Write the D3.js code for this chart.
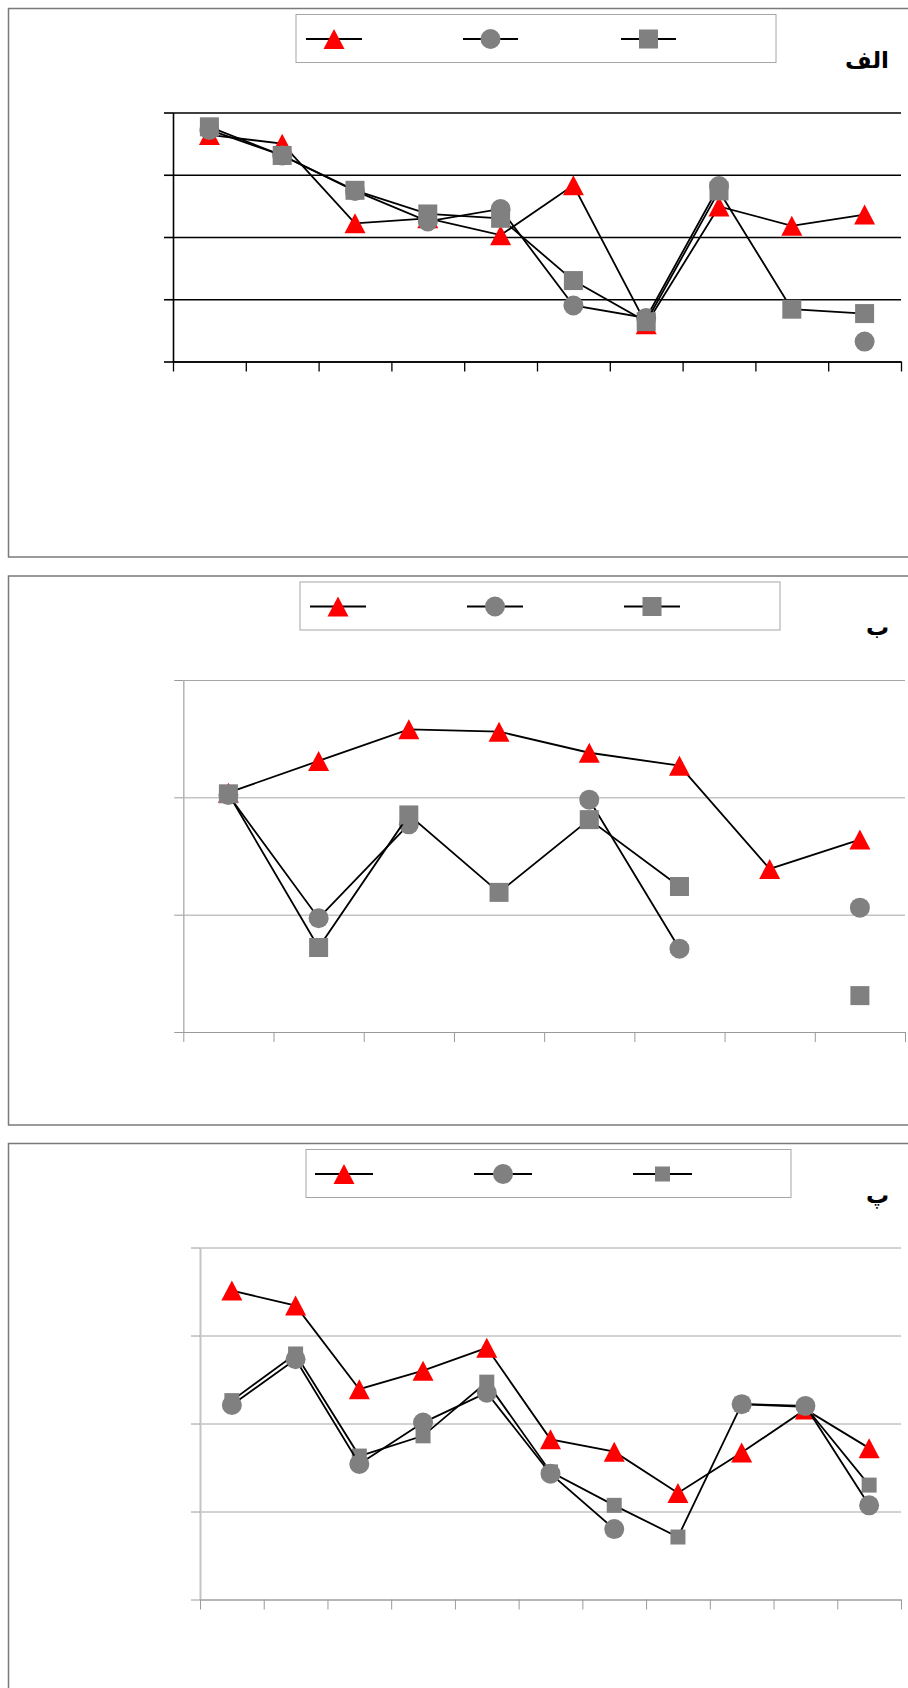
<!DOCTYPE html>
<html>
<head>
<meta charset="utf-8">
<script src="https://cdn.jsdelivr.net/npm/d3@7"></script>
<style>
  html, body { margin: 0; padding: 0; background: #fff; }
  svg { display: block; }
</style>
</head>
<body>
<svg id="canvas" width="908" height="1688"></svg>
<script>
'use strict';

// panel labels
const panelLabels = ['الف', 'ب', 'پ'];

// categories (no tick text is printed on the original)
const catsA = [1, 2, 3, 4, 5, 6, 7, 8, 9, 10];
const catsB = [1, 2, 3, 4, 5, 6, 7, 8];
const catsC = [1, 2, 3, 4, 5, 6, 7, 8, 9, 10, 11];

// y tick values
const ticksA = [0, 1, 2, 3, 4];
const ticksB = [0, 1, 2, 3];
const ticksC = [0, 1, 2, 3, 4];

// series values (null = gap)
const triA = [3.64, 3.50, 2.22, 2.30, 2.03, 2.83, 0.60, 2.49, 2.18, 2.36];
const cirA = [3.72, 3.31, 2.74, 2.25, 2.45, 0.90, 0.70, 2.82, null, 0.32];
const sqrA = [3.77, 3.31, 2.75, 2.37, 2.30, 1.30, 0.64, 2.74, 0.84, 0.77];

const triB = [2.04, 2.31, 2.58, 2.56, 2.38, 2.27, 1.39, 1.64];
const cirB = [2.02, 0.97, 1.77, null, 1.98, 0.71, null, 1.06];
const sqrB = [2.03, 0.72, 1.85, 1.19, 1.81, 1.24, null, 0.31];

const triC = [3.51, 3.34, 2.39, 2.60, 2.86, 1.82, 1.68, 1.21, 1.67, 2.16, 1.72];
const cirC = [2.21, 2.73, 1.54, 2.01, 2.35, 1.43, 0.80, null, 2.22, 2.20, 1.07];
const sqrC = [2.26, 2.79, 1.63, 1.86, 2.47, 1.45, 1.07, 0.71, 2.22, 2.19, 1.30];

const svg = d3.select('#canvas');

const markerStyle = {
	tri: {fill: '#ff0000'},
	cir: {fill: '#808080'},
	sqr: {fill: '#808080'}
};

function drawMarker(g, kind, cx, cy, size){
	if(kind === 'tri'){
		const w = 21, h = 20;
		g.append('path')
			.attr('d', 'M'+cx+','+(cy-h/2)+'L'+(cx+w/2)+','+(cy+h/2)+'L'+(cx-w/2)+','+(cy+h/2)+'Z')
			.attr('fill', markerStyle.tri.fill);
	} else if(kind === 'cir'){
		g.append('circle')
			.attr('cx', cx).attr('cy', cy).attr('r', 10)
			.attr('fill', markerStyle.cir.fill);
	} else {
		g.append('rect')
			.attr('x', cx-size/2).attr('y', cy-size/2)
			.attr('width', size).attr('height', size)
			.attr('fill', markerStyle.sqr.fill);
	}
}

function drawPanel(p){
	const g = svg.append('g');

	// frame, cut off on the right like the original
	g.append('rect')
		.attr('x', 8.5).attr('y', p.top)
		.attr('width', 1000).attr('height', p.height)
		.attr('fill', '#fff')
		.attr('stroke', '#7a7a7a')
		.attr('stroke-width', 1.5);

	// legend box
	g.append('rect')
		.attr('x', p.legend.x).attr('y', p.top+6)
		.attr('width', p.legend.w).attr('height', 48)
		.attr('fill', '#fff')
		.attr('stroke', '#a6a6a6')
		.attr('stroke-width', 1);

	p.legend.items.forEach((it, i) => {
		const ly = p.top+30.5;
		g.append('line')
			.attr('x1', it[0]).attr('x2', it[1])
			.attr('y1', ly).attr('y2', ly)
			.attr('stroke', '#000').attr('stroke-width', 2.2);
		drawMarker(g, p.order[i], (it[0]+it[1])/2, ly, p.sqSize);
	});

	// panel label
	g.append('text')
		.attr('x', 889).attr('y', p.top+59)
		.attr('text-anchor', 'end')
		.attr('font-family', 'DejaVu Sans, sans-serif')
		.attr('font-weight', 'bold')
		.attr('font-size', 23)
		.attr('fill', '#000')
		.text(p.label);

	const y0 = p.top+104, y1 = y0+p.plotH;
	const x = d3.scaleLinear().domain([0, p.cats.length]).range([p.left, p.right]);
	const y = d3.scaleLinear().domain([0, d3.max(p.yTicks)]).range([y1, y0]);

	// gridlines
	const grid = g.append('g')
		.attr('transform', 'translate('+p.left+',0)')
		.call(d3.axisLeft(y).tickValues(p.yTicks).tickSize(-(p.right-p.left)).tickFormat(''));
	grid.select('.domain').remove();
	grid.selectAll('.tick line')
		.attr('stroke', p.gridColor)
		.attr('stroke-width', p.gridW);

	// left axis with outside ticks
	const la = g.append('g')
		.attr('transform', 'translate('+p.left+',0)')
		.call(d3.axisLeft(y).tickValues(p.yTicks).tickSize(9).tickSizeOuter(0).tickFormat(''));
	la.select('.domain').attr('stroke', p.vAxisColor).attr('stroke-width', p.vAxisW);
	la.selectAll('.tick line').attr('stroke', p.axisColor).attr('stroke-width', p.gridW);

	// bottom axis, ticks between categories
	const ba = g.append('g')
		.attr('transform', 'translate(0,'+y1+')')
		.call(d3.axisBottom(x).tickValues(d3.range(p.cats.length+1)).tickSize(10).tickSizeOuter(0).tickFormat(''));
	ba.select('.domain').attr('stroke', p.axisColor).attr('stroke-width', p.gridW);
	ba.selectAll('.tick line').attr('stroke', p.axisColor).attr('stroke-width', p.gridW === 1 ? 1 : 1.3);

	const line = d3.line()
		.defined(d => d.v !== null)
		.x(d => x(d.i+0.5))
		.y(d => y(d.v));

	p.drawOrder.forEach(k => {
		const rows = p.series[k].map((v, i) => ({i, v}));
		g.append('path')
			.datum(rows)
			.attr('d', line)
			.attr('fill', 'none')
			.attr('stroke', '#000')
			.attr('stroke-width', 1.8);
		const mg = g.append('g');
		rows.filter(d => d.v !== null).forEach(d => {
			drawMarker(mg, k, x(d.i+0.5), y(d.v), p.sqSize);
		});
	});
}

drawPanel({
	top: 8.5, height: 548.5, label: panelLabels[0],
	cats: catsA, yTicks: ticksA, plotH: 249, left: 173, right: 901,
	series: {tri: triA, cir: cirA, sqr: sqrA},
	order: ['tri', 'cir', 'sqr'], drawOrder: ['tri', 'cir', 'sqr'],
	legend: {x: 296, w: 480, items: [[306, 362], [463, 518], [621, 676]]},
	sqSize: 19, gridColor: '#000', gridW: 1.6, axisColor: '#000', vAxisColor: '#000', vAxisW: 1.6
});

drawPanel({
	top: 576, height: 549, label: panelLabels[1],
	cats: catsB, yTicks: ticksB, plotH: 352, left: 183.3, right: 905,
	series: {tri: triB, cir: cirB, sqr: sqrB},
	order: ['tri', 'cir', 'sqr'], drawOrder: ['tri', 'cir', 'sqr'],
	legend: {x: 300, w: 480, items: [[310, 366], [467, 523], [624, 680]]},
	sqSize: 19, gridColor: '#a6a6a6', gridW: 1, axisColor: '#9a9a9a', vAxisColor: '#b4b4b4', vAxisW: 1.5
});

drawPanel({
	top: 1143.5, height: 600, label: panelLabels[2],
	cats: catsC, yTicks: ticksC, plotH: 352, left: 200, right: 901,
	series: {tri: triC, cir: cirC, sqr: sqrC},
	order: ['tri', 'cir', 'sqr'], drawOrder: ['tri', 'sqr', 'cir'],
	legend: {x: 306, w: 485, items: [[315, 373], [474, 532], [633, 692]]},
	sqSize: 15, gridColor: '#a6a6a6', gridW: 1, axisColor: '#9a9a9a', vAxisColor: '#c4c4c4', vAxisW: 2
});
</script>
</body>
</html>
